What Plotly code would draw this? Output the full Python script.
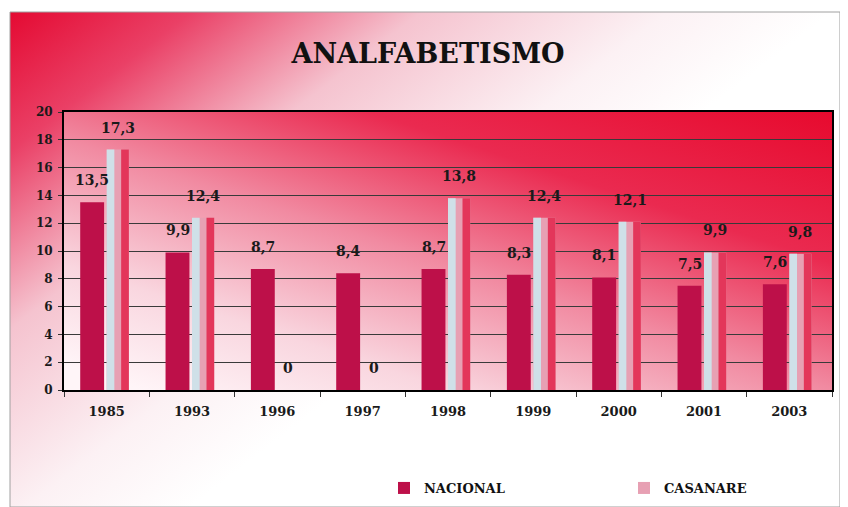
import base64
import plotly.graph_objects as go

anios = ["1985", "1993", "1996", "1997", "1998", "1999", "2000", "2001", "2003"]
nacional = [13.5, 9.9, 8.7, 8.4, 8.7, 8.3, 8.1, 7.5, 7.6]
casanare = [17.3, 12.4, 0, 0, 13.8, 12.4, 12.1, 9.9, 9.8]

FUENTE = "DejaVu Serif"


def etiqueta(v):
    # coma decimal y "0" sin decimales, como en el original
    return "0" if v == 0 else f"{v:.1f}".replace(".", ",")


def svg_degradado(x1, y1, x2, y2, paradas):
    stops = "".join(f'<stop offset="{o}" stop-color="{c}"/>' for o, c in paradas)
    svg = (
        '<svg xmlns="http://www.w3.org/2000/svg" width="100" height="100" preserveAspectRatio="none">'
        f'<defs><linearGradient id="g" x1="{x1}" y1="{y1}" x2="{x2}" y2="{y2}">{stops}</linearGradient></defs>'
        '<rect width="100" height="100" fill="url(#g)"/></svg>'
    )
    return "data:image/svg+xml;base64," + base64.b64encode(svg.encode()).decode()


fondo_exterior = svg_degradado(0, 0, 0.62, 0.48, [
    (0, "#e40a32"), (0.22, "#ea4066"), (0.5, "#f5c3cf"), (0.8, "#fcf1f4"), (1, "#ffffff")])
fondo_grafico = svg_degradado(1, 0, 0.1, 1, [
    (0, "#e70a2e"), (0.3, "#ea2a50"), (0.55, "#f18aa1"), (0.8, "#f9d6df"), (1, "#fff5f8")])

texto = dict(family=FUENTE, size=14, color="#1a1a1a", weight="bold")

fig = go.Figure()

# NACIONAL
fig.add_trace(go.Bar(
    x=anios, y=nacional, name="NACIONAL",
    offset=-0.31, width=0.28,
    marker=dict(color="#bd1049", line=dict(width=0)),
))

# CASANARE (tres franjas para imitar el degradado horizontal)
fig.add_trace(go.Bar(
    x=anios, y=casanare, name="CASANARE",
    offset=0.0, width=0.26,
    marker=dict(color="#e7a0b3", line=dict(width=0)),
))
fig.add_trace(go.Bar(
    x=anios, y=casanare, showlegend=False, hoverinfo="skip",
    offset=0.0, width=0.09,
    marker=dict(color="#cfe0e8", line=dict(width=0)),
))
fig.add_trace(go.Bar(
    x=anios, y=casanare, showlegend=False, hoverinfo="skip",
    offset=0.17, width=0.09,
    marker=dict(color="#e3365a", line=dict(width=0)),
))

# etiquetas de valores sobre las barras (x = indice de la categoria)
anotaciones = []
for i, (vn, vc) in enumerate(zip(nacional, casanare)):
    anotaciones.append(dict(x=i, y=vn, text=etiqueta(vn), xshift=-14.5, yshift=12,
                            yanchor="bottom", showarrow=False, font=texto))
    anotaciones.append(dict(x=i, y=vc, text=etiqueta(vc), xshift=11, yshift=12,
                            yanchor="bottom", showarrow=False, font=texto))

fig.update_layout(
    width=840, height=500,
    margin=dict(l=56, r=16, t=104, b=118),
    barmode="overlay",
    paper_bgcolor="white",
    plot_bgcolor="rgba(0,0,0,0)",
    font=dict(family=FUENTE, color="#1a1a1a"),
    title=dict(
        text="ANALFABETISMO", x=0.5, xanchor="center", y=0.908, yanchor="middle",
        font=dict(family=FUENTE, size=27, color="#111", weight="bold"),
    ),
    showlegend=True,
    legend=dict(
        orientation="h", xref="container", yref="container",
        x=0.4476, y=0.04, xanchor="left", yanchor="middle",
        entrywidth=195, entrywidthmode="pixels",
        font=dict(family=FUENTE, size=13, color="#111", weight="bold"),
        bgcolor="rgba(0,0,0,0)", itemclick=False,
        traceorder="normal",
    ),
    annotations=anotaciones,
    images=[
        dict(source=fondo_exterior, xref="paper", yref="paper",
             x=-0.0703, y=1.3597, sizex=1.0807, sizey=1.7806,
             sizing="stretch", layer="below", xanchor="left", yanchor="top"),
        dict(source=fondo_grafico, xref="paper", yref="paper",
             x=0, y=1, sizex=1, sizey=1,
             sizing="stretch", layer="below", xanchor="left", yanchor="top"),
    ],
    shapes=[
        dict(type="rect", xref="paper", yref="paper",
             x0=-0.0703, x1=1.0104, y0=-0.4209, y1=1.3597,
             line=dict(color="#a0a0a0", width=1), layer="below"),
    ],
)

fig.update_xaxes(
    type="category", automargin=False,
    categoryorder="array", categoryarray=anios,
    range=[-0.5, len(anios) - 0.5],
    showline=True, linecolor="black", linewidth=2, mirror=True,
    ticks="outside", tickson="boundaries", ticklen=5, tickcolor="#333",
    ticklabelstandoff=8,
    showgrid=False,
    tickfont=dict(family=FUENTE, size=13, color="#1a1a1a", weight="bold"),
)
fig.update_yaxes(
    range=[0, 20], dtick=2, automargin=False,
    showline=True, linecolor="black", linewidth=2, mirror=True,
    showgrid=True, gridcolor="#3a3a3a", gridwidth=1,
    ticks="outside", ticklen=4, tickcolor="#333",
    ticklabelstandoff=3,
    zeroline=False,
    tickfont=dict(family=FUENTE, size=12, color="#1a1a1a", weight="bold"),
)

fig.write_html("out.html")
